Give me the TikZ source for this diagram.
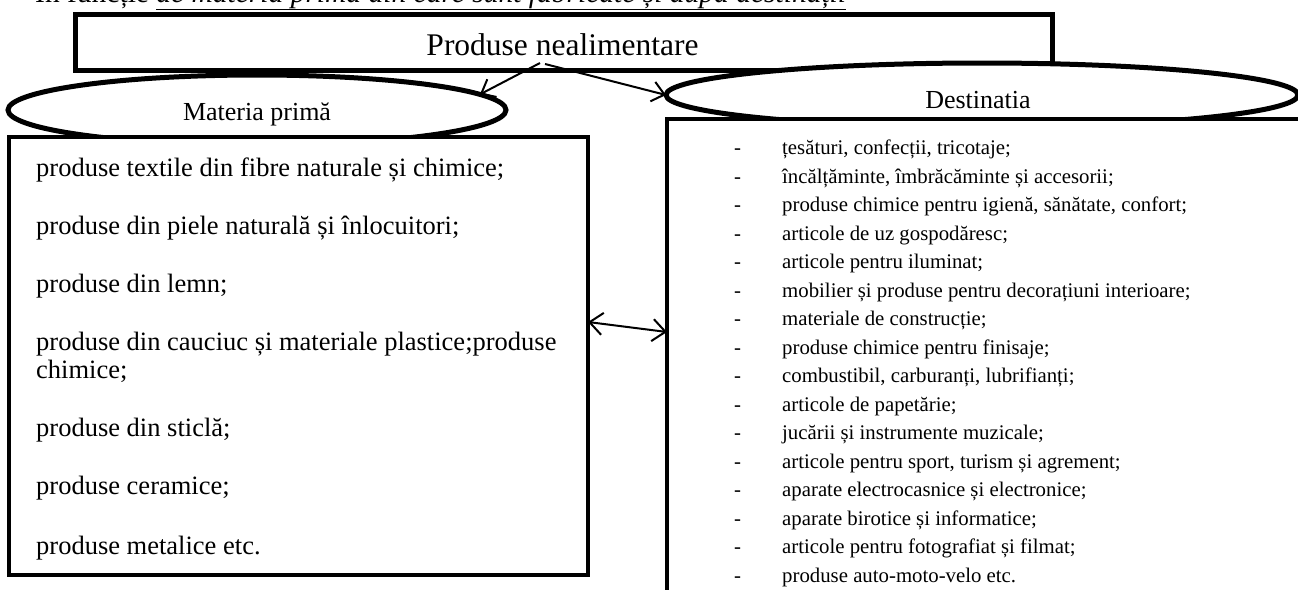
\documentclass[tikz,border=0pt]{standalone}
\usepackage{fontspec}
\setmainfont{Liberation Serif}
\usetikzlibrary{arrows.meta,calc,shapes.geometric}
\newcommand{\fhdr}{\fontsize{29.5}{33}\selectfont}
\newcommand{\ftitle}{\fontsize{31.5}{36}\selectfont}
\newcommand{\fbody}{\fontsize{26.5}{30}\selectfont}
\newcommand{\flbl}{\fontsize{26}{30}\selectfont}
\newcommand{\flist}{\fontsize{20.8}{24}\selectfont}
\tikzset{
  frame/.style={draw, line width=#1, fill=white, inner sep=0pt, outer sep=0pt},
  oval/.style={ellipse, draw, line width=5pt, fill=white, inner sep=0pt, outer sep=0pt},
  txt/.style={anchor=base west, inner sep=0pt},
  lbl/.style={anchor=base, inner sep=0pt},
  conn/.style={line width=2pt, -{Straight Barb[length=12pt,width=20pt]}},
  biconn/.style={line width=2pt, {Straight Barb[length=13pt,width=22pt]}-{Straight Barb[length=13pt,width=22pt]}},
}
\begin{document}
\begin{tikzpicture}[x=1pt,y=-1pt]
\useasboundingbox (0,0) rectangle (1298,589);
\clip (0,0) rectangle (1298,589);
% header (cut by the top edge)
\node[txt, font=\fhdr] (hdr) at (35,2) {În funcție \underline{\textit{de materia primă din care sunt fabricate și după destinații}}};
% top box
\node[frame=5pt, minimum width=977pt, minimum height=56pt] (toprect) at (563.5,42) {};
\node[lbl, font=\ftitle] (title) at (562.5,55) {Produse nealimentare};
% ellipses
\node[oval, minimum width=498pt, minimum height=70pt] (mp) at (257,110) {};
\node[lbl, font=\flbl] (mplbl) at (257,120) {Materia primă};
\node[oval, minimum width=632pt, minimum height=64pt] (dst) at (982,95) {};
\node[lbl, font=\flbl] (dstlbl) at (978,108) {Destinatia};
% boxes
\node[frame=4pt, minimum width=579pt, minimum height=438pt] (lbox) at (298.5,356) {};
\node[frame=4.5pt, minimum width=700pt, minimum height=520pt] (rbox) at (1017,379) {};
% left list
\begin{scope}[font=\fbody]
\node[txt] (l1) at (36,176) {produse textile din fibre naturale și chimice;};
\node[txt] (l2) at (36,234) {produse din piele naturală și înlocuitori;};
\node[txt] (l3) at (36,292) {produse din lemn;};
\node[txt] (l4) at (36,350) {produse din cauciuc și materiale plastice;produse};
\node[txt] (l5) at (36,378) {chimice;};
\node[txt] (l6) at (36,436) {produse din sticlă;};
\node[txt] (l7) at (36,494) {produse ceramice;};
\begin{scope}
\clip (0,0) rectangle (600,559);
\node[txt] (l8) at (36,554) {produse metalice etc.};
\end{scope}
\end{scope}
% right list
\foreach \t [count=\i] in {
  {țesături, confecții, tricotaje;},
  {încălțăminte, îmbrăcăminte și accesorii;},
  {produse chimice pentru igienă, sănătate, confort;},
  {articole de uz gospodăresc;},
  {articole pentru iluminat;},
  {mobilier și produse pentru decorațiuni interioare;},
  {materiale de construcție;},
  {produse chimice pentru finisaje;},
  {combustibil, carburanți, lubrifianți;},
  {articole de papetărie;},
  {jucării și instrumente muzicale;},
  {articole pentru sport, turism și agrement;},
  {aparate electrocasnice și electronice;},
  {aparate birotice și informatice;},
  {articole pentru fotografiat și filmat;},
  {produse auto-moto-velo etc.}}
{
  \node[txt, font=\flist] (d\i) at (734,{126+28.5*\i}) {-};
  \node[txt, font=\flist] (r\i) at (782,{126+28.5*\i}) {\t};
}
% connectors
\coordinate (a1s) at (540,63);
\coordinate (a2s) at (545,64);
\draw[conn] (a1s) -- (mp.4);
\draw[conn] (a2s) -- (dst.west);
\coordinate (dl) at ($(lbox.north east)+(0,185)$);
\coordinate (dr) at ($(rbox.north west)+(0,213)$);
\draw[biconn] (dl) -- (dr);
\end{tikzpicture}
\end{document}
